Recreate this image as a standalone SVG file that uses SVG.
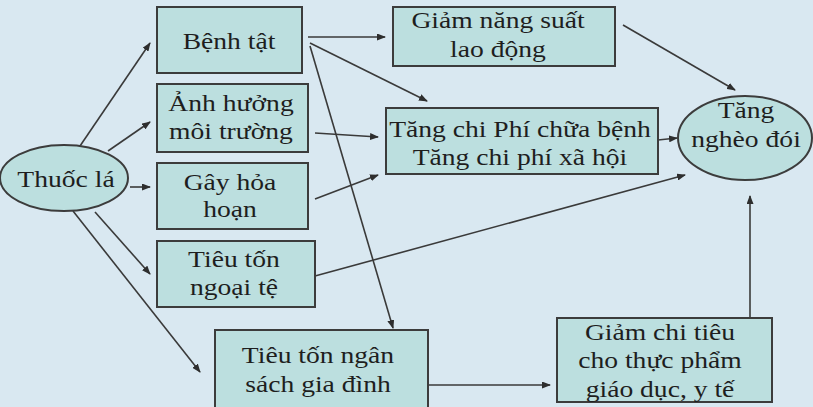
<svg xmlns="http://www.w3.org/2000/svg" width="813" height="407" viewBox="0 0 813 407">
<style>
.box{fill:#bcdfdf;stroke:#3c3c3c;stroke-width:2}
.t{font-family:'Liberation Serif',serif;font-size:24px;fill:#1e1e1e;text-anchor:middle}
.c{stroke:#3a3a3a;stroke-width:1.6;fill:none;marker-end:url(#ah)}
</style>
<defs>
<marker id="ah" markerUnits="userSpaceOnUse" markerWidth="9" markerHeight="7" refX="8" refY="3.5" orient="auto">
<path d="M0,0 L9,3.5 L0,7 z" fill="#2e2e2e"/>
</marker>
</defs>
<rect width="813" height="407" fill="#d9e8f1"/>
<g id="connectors">
<line class="c" x1="80" y1="146" x2="150" y2="43"/>
<line class="c" x1="108" y1="151" x2="150" y2="122"/>
<line class="c" x1="130" y1="187" x2="150" y2="187"/>
<line class="c" x1="95" y1="212" x2="150" y2="274"/>
<line class="c" x1="73" y1="211" x2="200" y2="372"/>
<line class="c" x1="308" y1="37" x2="385" y2="37"/>
<line class="c" x1="310" y1="43" x2="427" y2="101"/>
<line class="c" x1="310" y1="46" x2="393" y2="328"/>
<line class="c" x1="315" y1="133" x2="378" y2="137"/>
<line class="c" x1="315" y1="199" x2="378" y2="175"/>
<line class="c" x1="315" y1="276" x2="685" y2="175"/>
<line class="c" x1="623" y1="25" x2="735" y2="90"/>
<line class="c" x1="658" y1="140" x2="677" y2="138"/>
<line class="c" x1="428" y1="385" x2="550" y2="385"/>
<line class="c" x1="750" y1="318" x2="750" y2="196"/>
</g>
<g id="thuoc-la">
<ellipse class="box" cx="64" cy="178" rx="64" ry="33"/>
<text class="t" transform="translate(66,0) scale(1.15,1)" y="187">Thuốc lá</text>
</g>
<g id="benh-tat">
<rect class="box" x="157" y="7" width="145" height="66"/>
<text class="t" transform="translate(229,0) scale(1.15,1)" y="49">Bệnh tật</text>
</g>
<g id="anh-huong">
<rect class="box" x="157" y="84" width="151" height="68"/>
<text class="t" transform="translate(231,0) scale(1.15,1)"><tspan x="0" y="111">Ảnh hưởng</tspan><tspan x="0" y="139">môi trường</tspan></text>
</g>
<g id="gay-hoa-hoan">
<rect class="box" x="157" y="163" width="151" height="66"/>
<text class="t" transform="translate(230,0) scale(1.15,1)"><tspan x="0" y="190">Gây hỏa</tspan><tspan x="0" y="217">hoạn</tspan></text>
</g>
<g id="ngoai-te">
<rect class="box" x="157" y="241" width="158" height="66"/>
<text class="t" transform="translate(234,0) scale(1.15,1)"><tspan x="0" y="267">Tiêu tốn</tspan><tspan x="0" y="295">ngoại tệ</tspan></text>
</g>
<g id="ngan-sach">
<rect class="box" x="215" y="330" width="213" height="82"/>
<text class="t" transform="translate(318,0) scale(1.15,1)"><tspan x="0" y="363">Tiêu tốn ngân</tspan><tspan x="0" y="392">sách gia đình</tspan></text>
</g>
<g id="giam-nang-suat">
<rect class="box" x="393" y="7" width="222" height="59"/>
<text class="t" transform="translate(498,0) scale(1.15,1)"><tspan x="0" y="28">Giảm năng suất</tspan><tspan x="0" y="57">lao động</tspan></text>
</g>
<g id="tang-chi-phi">
<rect class="box" x="386" y="108" width="272" height="66"/>
<text class="t" transform="translate(520,0) scale(1.15,1)"><tspan x="0" y="137">Tăng chi Phí chữa bệnh</tspan><tspan x="0" y="165">Tăng chi phí xã hội</tspan></text>
</g>
<g id="tang-ngheo-doi">
<ellipse class="box" cx="745" cy="138" rx="67" ry="42"/>
<text class="t" transform="translate(746,0) scale(1.15,1)"><tspan x="0" y="118">Tăng</tspan><tspan x="0" y="147">nghèo đói</tspan></text>
</g>
<g id="giam-chi-tieu">
<rect class="box" x="557" y="318" width="215" height="84"/>
<text class="t" transform="translate(660,0) scale(1.15,1)"><tspan x="0" y="340">Giảm chi tiêu</tspan><tspan x="0" y="368">cho thực phẩm</tspan><tspan x="0" y="397">giáo dục, y tế</tspan></text>
</g>
</svg>
